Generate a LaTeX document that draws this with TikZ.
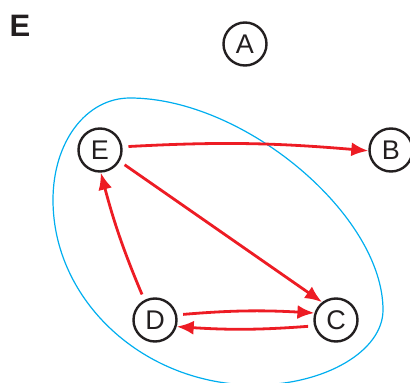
\documentclass[tikz,border=0pt]{standalone}
\usepackage{fontspec}
\setmainfont{Liberation Sans}
\usetikzlibrary{arrows.meta}
\definecolor{myred}{RGB}{237,28,36}
\definecolor{myblue}{RGB}{0,174,239}
\definecolor{myblack}{RGB}{35,31,32}
\begin{document}
\begin{tikzpicture}[x=1pt,y=-1pt,
  vtx/.style={circle,draw=myblack,line width=2.4pt,minimum size=43pt,inner sep=0pt,font=\fontsize{27}{27}\selectfont,text=myblack},
  edge/.style={draw=myred,line width=2.8pt,-{Latex[length=17pt,width=14pt]},shorten <=6pt}]
\useasboundingbox (0,0) rectangle (410,383);
\node[font=\bfseries\fontsize{31}{31}\selectfont,text=myblack] (lab) at (20,26) {E};
\node[vtx] (A) at (245,44) {A};
\node[vtx] (E) at (100,150) {E};
\node[vtx] (B) at (391,150) {B};
\node[vtx] (D) at (155,320) {D};
\node[vtx] (C) at (336,320) {C};
\draw[myblue,line width=1.2pt]
  (130,98) .. controls (86,98) and (53,142) .. (53,200)
  .. controls (53,301) and (144,385) .. (255,385)
  .. controls (325,385) and (383,351) .. (383,310)
  .. controls (383,215) and (244,98) .. cycle;
\draw[edge] (E.8) to[bend left=4] (B.182);
\draw[edge] (E.-30) -- (C.128);
\draw[edge] (D.118) to[bend left=4] (E.-88);
\draw[edge] (D.13) to[bend left=4] (C.162);
\draw[edge] (C.-165) to[bend left=4] (D.-17);
\end{tikzpicture}
\end{document}
